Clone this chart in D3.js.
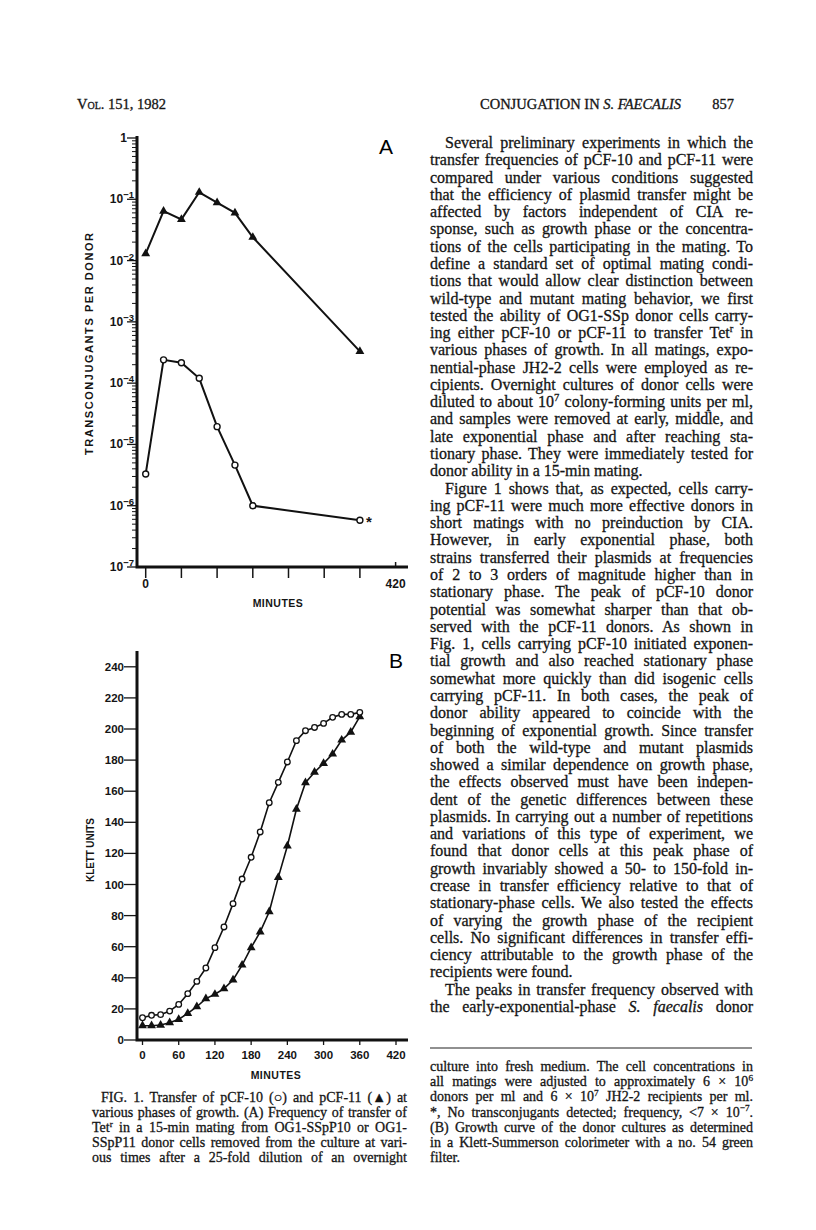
<!DOCTYPE html>
<html>
<head>
<meta charset="utf-8">
<script src="https://cdn.jsdelivr.net/npm/d3@7"></script>
<style>
  body { margin: 0; background: #fff; }
  svg { display: block; }
  .serif { font-family: "Liberation Serif", "Times New Roman", serif; fill: #151515; stroke: #151515; stroke-width: 0.3px; }
  .sans { font-family: "Liberation Sans", Arial, sans-serif; font-weight: bold; fill: #151515; }
</style>
</head>
<body>
<div id="page"></div>
<script>
// ---- data ----
// panel A: transfer frequency (log scale)
const minutesA = [0, 30, 60, 90, 120, 150, 180, 360];
const pcf11A = [1.3e-2, 6.4e-2, 4.7e-2, 1.3e-1, 8.8e-2, 6.0e-2, 2.4e-2, 3.3e-4];
const pcf10A = [3.3e-6, 2.4e-4, 2.15e-4, 1.2e-4, 1.95e-5, 4.6e-6, 1.0e-6, 5.8e-7];
const logTicksA = [1, 1e-1, 1e-2, 1e-3, 1e-4, 1e-5, 1e-6, 1e-7];
const logTickLabels = ["1", "-1", "-2", "-3", "-4", "-5", "-6", "-7"];
const xTicksA = [0, 60, 120, 180, 240, 300, 360, 420];
const xLabelsA = [0, 420];

// panel B: growth curve (Klett units)
const minutesB = [0, 15, 30, 45, 60, 75, 90, 105, 120, 135, 150, 165, 180, 195, 210, 225, 240, 255, 270, 285, 300, 315, 330, 345, 360];
const pcf10B = [14.3, 15.9, 16.3, 18.6, 22.9, 29.8, 37.7, 46.3, 59.4, 72.7, 87.7, 103.5, 117.5, 133.8, 152.6, 165.7, 178.8, 192.5, 198.9, 201, 203.6, 207.5, 209.4, 209.4, 210.7];
const pcf11B = [9.2, 9.2, 9.6, 11.1, 13.3, 17.1, 21.4, 26.6, 29.4, 33, 38.6, 48.2, 59.4, 69.5, 82.5, 104.6, 124.8, 148.4, 165.5, 172.2, 177.9, 183.9, 192.9, 198, 207.9];
const yTicksB = [0, 20, 40, 60, 80, 100, 120, 140, 160, 180, 200, 220, 240];
const xTicksB = [0, 60, 120, 180, 240, 300, 360, 420];

// ---- page text ----
const bodyLines = [
  ["Several preliminary experiments in which the", 1, 1],
  ["transfer frequencies of pCF-10 and pCF-11 were", 0, 1],
  ["compared under various conditions suggested", 0, 1],
  ["that the efficiency of plasmid transfer might be", 0, 1],
  ["affected by factors independent of CIA re-", 0, 1],
  ["sponse, such as growth phase or the concentra-", 0, 1],
  ["tions of the cells participating in the mating. To", 0, 1],
  ["define a standard set of optimal mating condi-", 0, 1],
  ["tions that would allow clear distinction between", 0, 1],
  ["wild-type and mutant mating behavior, we first", 0, 1],
  ["tested the ability of OG1-SSp donor cells carry-", 0, 1],
  ["ing either pCF-10 or pCF-11 to transfer Tet^{r} in", 0, 1],
  ["various phases of growth. In all matings, expo-", 0, 1],
  ["nential-phase JH2-2 cells were employed as re-", 0, 1],
  ["cipients. Overnight cultures of donor cells were", 0, 1],
  ["diluted to about 10^{7} colony-forming units per ml,", 0, 1],
  ["and samples were removed at early, middle, and", 0, 1],
  ["late exponential phase and after reaching sta-", 0, 1],
  ["tionary phase. They were immediately tested for", 0, 1],
  ["donor ability in a 15-min mating.", 0, 0],
  ["Figure 1 shows that, as expected, cells carry-", 1, 1],
  ["ing pCF-11 were much more effective donors in", 0, 1],
  ["short matings with no preinduction by CIA.", 0, 1],
  ["However, in early exponential phase, both", 0, 1],
  ["strains transferred their plasmids at frequencies", 0, 1],
  ["of 2 to 3 orders of magnitude higher than in", 0, 1],
  ["stationary phase. The peak of pCF-10 donor", 0, 1],
  ["potential was somewhat sharper than that ob-", 0, 1],
  ["served with the pCF-11 donors. As shown in", 0, 1],
  ["Fig. 1, cells carrying pCF-10 initiated exponen-", 0, 1],
  ["tial growth and also reached stationary phase", 0, 1],
  ["somewhat more quickly than did isogenic cells", 0, 1],
  ["carrying pCF-11. In both cases, the peak of", 0, 1],
  ["donor ability appeared to coincide with the", 0, 1],
  ["beginning of exponential growth. Since transfer", 0, 1],
  ["of both the wild-type and mutant plasmids", 0, 1],
  ["showed a similar dependence on growth phase,", 0, 1],
  ["the effects observed must have been indepen-", 0, 1],
  ["dent of the genetic differences between these", 0, 1],
  ["plasmids. In carrying out a number of repetitions", 0, 1],
  ["and variations of this type of experiment, we", 0, 1],
  ["found that donor cells at this peak phase of", 0, 1],
  ["growth invariably showed a 50- to 150-fold in-", 0, 1],
  ["crease in transfer efficiency relative to that of", 0, 1],
  ["stationary-phase cells. We also tested the effects", 0, 1],
  ["of varying the growth phase of the recipient", 0, 1],
  ["cells. No significant differences in transfer effi-", 0, 1],
  ["ciency attributable to the growth phase of the", 0, 1],
  ["recipients were found.", 0, 0],
  ["The peaks in transfer frequency observed with", 1, 1],
  ["the early-exponential-phase _{S. faecalis} donor", 0, 1]
];
const footLines = [
  ["culture into fresh medium. The cell concentrations in", 0, 1],
  ["all matings were adjusted to approximately 6 × 10^{6}", 0, 1],
  ["donors per ml and 6 × 10^{7} JH2-2 recipients per ml.", 0, 1],
  ["*, No transconjugants detected; frequency, <7 × 10^{−7}.", 0, 1],
  ["(B) Growth curve of the donor cultures as determined", 0, 1],
  ["in a Klett-Summerson colorimeter with a no. 54 green", 0, 1],
  ["filter.", 0, 0]
];
const captionLines = [
  ["FIG. 1. Transfer of pCF-10 (○) and pCF-11 (▲) at", 1, 1],
  ["various phases of growth. (A) Frequency of transfer of", 0, 1],
  ["Tet^{r} in a 15-min mating from OG1-SSpP10 or OG1-", 0, 1],
  ["SSpP11 donor cells removed from the culture at vari-", 0, 1],
  ["ous times after a 25-fold dilution of an overnight", 0, 1]
];

const W = 816, H = 1230;
const svg = d3.select("#page").append("svg").attr("width", W).attr("height", H);
svg.append("rect").attr("width", W).attr("height", H).attr("fill", "#fff");

// writes one line of text with ^{sup} and _{italic} markup, justified if asked
function richLine(g, str, x, y, size, width, justify) {
  const t = g.append("text").attr("class", "serif").attr("x", x).attr("y", y)
    .style("font-size", size + "px");
  let shift = 0;
  str.split(/(\^\{[^}]*\}|_\{[^}]*\})/).forEach(part => {
    if (!part) return;
    if (part.startsWith("^{")) {
      t.append("tspan").attr("dy", -size * 0.38).style("font-size", (size * 0.66) + "px")
        .text(part.slice(2, -1));
      shift = size * 0.38;
    } else {
      const s = t.append("tspan").attr("dy", shift);
      shift = 0;
      if (part.startsWith("_{")) s.style("font-style", "italic").text(part.slice(2, -1));
      else s.text(part);
    }
  });
  if (justify) {
    const natural = t.node().getComputedTextLength();
    const spaces = (str.match(/ /g) || []).length;
    if (spaces > 0) t.style("word-spacing", ((width - natural) / spaces) + "px");
  }
  return t;
}

function block(lines, x0, right, y0, lh, size, indent) {
  const g = svg.append("g");
  lines.forEach((l, i) => {
    const x = x0 + (l[1] ? indent : 0);
    richLine(g, l[0], x, y0 + i * lh, size, right - x, l[2]);
  });
}

// header
const head = svg.append("g");
head.append("text").attr("class", "serif").attr("x", 77).attr("y", 109)
  .style("font-size", "14.5px").style("font-variant", "small-caps").text("Vol. 151, 1982");
const ht = head.append("text").attr("class", "serif").attr("x", 480).attr("y", 109).style("font-size", "14.5px");
ht.append("tspan").text("CONJUGATION IN ");
ht.append("tspan").style("font-style", "italic").text("S. FAECALIS");
head.append("text").attr("class", "serif").attr("x", 734).attr("y", 109).attr("text-anchor", "end")
  .style("font-size", "14.5px").text("857");

block(bodyLines, 430, 753, 148, 17.28, 16, 15);
svg.append("line").attr("x1", 430).attr("x2", 752).attr("y1", 1048).attr("y2", 1048)
  .attr("stroke", "#222").attr("stroke-width", 1.2);
block(footLines, 430, 753, 1071, 15.2, 14, 0);
block(captionLines, 92, 407, 1102, 15, 14, 9);

// ---- panel A ----
const xA = d3.scaleLinear().domain([0, 420]).range([145.7, 395.6]);
const yA = d3.scaleLog().domain([1e-7, 1]).range([567, 138]);
const gA = svg.append("g");
const axisX = 137;

// minor ticks for every decade
const minorA = [];
for (let e = -7; e < 0; e++) for (let m = 2; m <= 9; m++) minorA.push(m * Math.pow(10, e));
gA.selectAll(".minor").data(minorA).enter().append("line")
  .attr("x1", axisX - 5).attr("x2", axisX).attr("y1", d => yA(d)).attr("y2", d => yA(d))
  .attr("stroke", "#151515").attr("stroke-width", 1);
gA.selectAll(".major").data(logTicksA).enter().append("line")
  .attr("x1", axisX - 10).attr("x2", axisX).attr("y1", d => yA(d)).attr("y2", d => yA(d))
  .attr("stroke", "#151515").attr("stroke-width", 1.3);
logTicksA.forEach((d, i) => {
  const t = gA.append("text").attr("class", "sans").attr("text-anchor", "end")
    .attr("x", i === 0 ? axisX - 10 : axisX - 3).attr("y", yA(d) + 4).style("font-size", "12px");
  if (i === 0) t.text("1");
  else {
    t.append("tspan").text("10");
    t.append("tspan").attr("dy", -5).style("font-size", "9.5px").text(logTickLabels[i].replace("-", "−"));
  }
});
gA.selectAll(".xt").data(xTicksA).enter().append("line")
  .attr("x1", d => xA(d)).attr("x2", d => xA(d)).attr("y1", 567).attr("y2", d => d === 420 ? 562 : 578)
  .attr("stroke", "#151515").attr("stroke-width", 1.5);
gA.selectAll(".xl").data(xLabelsA).enter().append("text").attr("class", "sans")
  .attr("text-anchor", "middle").attr("x", d => xA(d)).attr("y", 588).style("font-size", "12px")
  .text(d => d);
gA.append("path").attr("d", `M${axisX},136 V567 H408`).attr("fill", "none")
  .attr("stroke", "#111").attr("stroke-width", 3);

const lineA = d3.line().x(d => xA(d[0])).y(d => yA(d[1]));
const tri = d3.symbol().type(d3.symbolTriangle).size(34);
const s11A = minutesA.map((m, i) => [m, pcf11A[i]]);
const s10A = minutesA.map((m, i) => [m, pcf10A[i]]);
gA.append("path").attr("d", lineA(s11A)).attr("fill", "none").attr("stroke", "#111").attr("stroke-width", 2);
gA.append("path").attr("d", lineA(s10A)).attr("fill", "none").attr("stroke", "#111").attr("stroke-width", 2);
gA.selectAll(".ta").data(s11A).enter().append("path").attr("d", tri)
  .attr("transform", d => `translate(${xA(d[0])},${yA(d[1])})`).attr("fill", "#111");
gA.selectAll(".ca").data(s10A).enter().append("circle")
  .attr("cx", d => xA(d[0])).attr("cy", d => yA(d[1])).attr("r", 3)
  .attr("fill", "#fff").attr("stroke", "#111").attr("stroke-width", 1.4);
gA.append("text").attr("class", "sans").attr("x", xA(360) + 6).attr("y", yA(5.8e-7) + 7)
  .style("font-size", "15px").text("*");
gA.append("text").attr("x", 386).attr("y", 154).attr("text-anchor", "middle")
  .style("font-family", "Liberation Sans, Arial, sans-serif").style("font-size", "21px").text("A");
gA.append("text").attr("class", "sans").attr("text-anchor", "middle")
  .attr("transform", "translate(93,344) rotate(-90)").attr("textLength", 222)
  .style("font-size", "11px").text("TRANSCONJUGANTS  PER  DONOR");
gA.append("text").attr("class", "sans").attr("text-anchor", "middle").attr("x", 278).attr("y", 607)
  .style("font-size", "10.5px").style("letter-spacing", "0.5px").text("MINUTES");

// ---- panel B ----
const xB = d3.scaleLinear().domain([0, 420]).range([142.5, 396]);
const yB = d3.scaleLinear().domain([0, 240]).range([1040, 666.8]);
const gB = svg.append("g");
gB.selectAll(".yt").data(yTicksB).enter().append("line")
  .attr("x1", axisX - 13).attr("x2", axisX).attr("y1", d => yB(d)).attr("y2", d => yB(d))
  .attr("stroke", "#151515").attr("stroke-width", 1.3);
gB.selectAll(".yl").data(yTicksB).enter().append("text").attr("class", "sans")
  .attr("text-anchor", "end").attr("x", axisX - 13).attr("y", d => yB(d) + 4)
  .style("font-size", "11.5px").text(d => d);
gB.selectAll(".xt").data(xTicksB).enter().append("line")
  .attr("x1", d => xB(d)).attr("x2", d => xB(d)).attr("y1", 1040).attr("y2", 1045)
  .attr("stroke", "#151515").attr("stroke-width", 1.3);
gB.selectAll(".xl").data(xTicksB).enter().append("text").attr("class", "sans")
  .attr("text-anchor", "middle").attr("x", d => xB(d)).attr("y", 1059)
  .style("font-size", "11.5px").text(d => d);
gB.append("path").attr("d", `M${axisX},651 V1040 H408`).attr("fill", "none")
  .attr("stroke", "#111").attr("stroke-width", 3);

const lineB = d3.line().x(d => xB(d[0])).y(d => yB(d[1]));
const s11B = minutesB.map((m, i) => [m, pcf11B[i]]);
const s10B = minutesB.map((m, i) => [m, pcf10B[i]]);
gB.append("path").attr("d", lineB(s10B)).attr("fill", "none").attr("stroke", "#111").attr("stroke-width", 1.6);
gB.append("path").attr("d", lineB(s11B)).attr("fill", "none").attr("stroke", "#111").attr("stroke-width", 1.6);
gB.selectAll(".tb").data(s11B).enter().append("path").attr("d", tri)
  .attr("transform", d => `translate(${xB(d[0])},${yB(d[1])})`).attr("fill", "#111");
gB.selectAll(".cb").data(s10B).enter().append("circle")
  .attr("cx", d => xB(d[0])).attr("cy", d => yB(d[1])).attr("r", 2.8)
  .attr("fill", "#fff").attr("stroke", "#111").attr("stroke-width", 1.3);
gB.append("text").attr("x", 396).attr("y", 668).attr("text-anchor", "middle")
  .style("font-family", "Liberation Sans, Arial, sans-serif").style("font-size", "21px")
  .style("font-stretch", "condensed").text("B");
gB.append("text").attr("class", "sans").attr("text-anchor", "middle")
  .attr("transform", "translate(94,850) rotate(-90)").attr("textLength", 64)
  .style("font-size", "10px").text("KLETT UNITS");
gB.append("text").attr("class", "sans").attr("text-anchor", "middle").attr("x", 276).attr("y", 1079)
  .style("font-size", "10.5px").style("letter-spacing", "0.5px").text("MINUTES");
</script>
</body>
</html>
